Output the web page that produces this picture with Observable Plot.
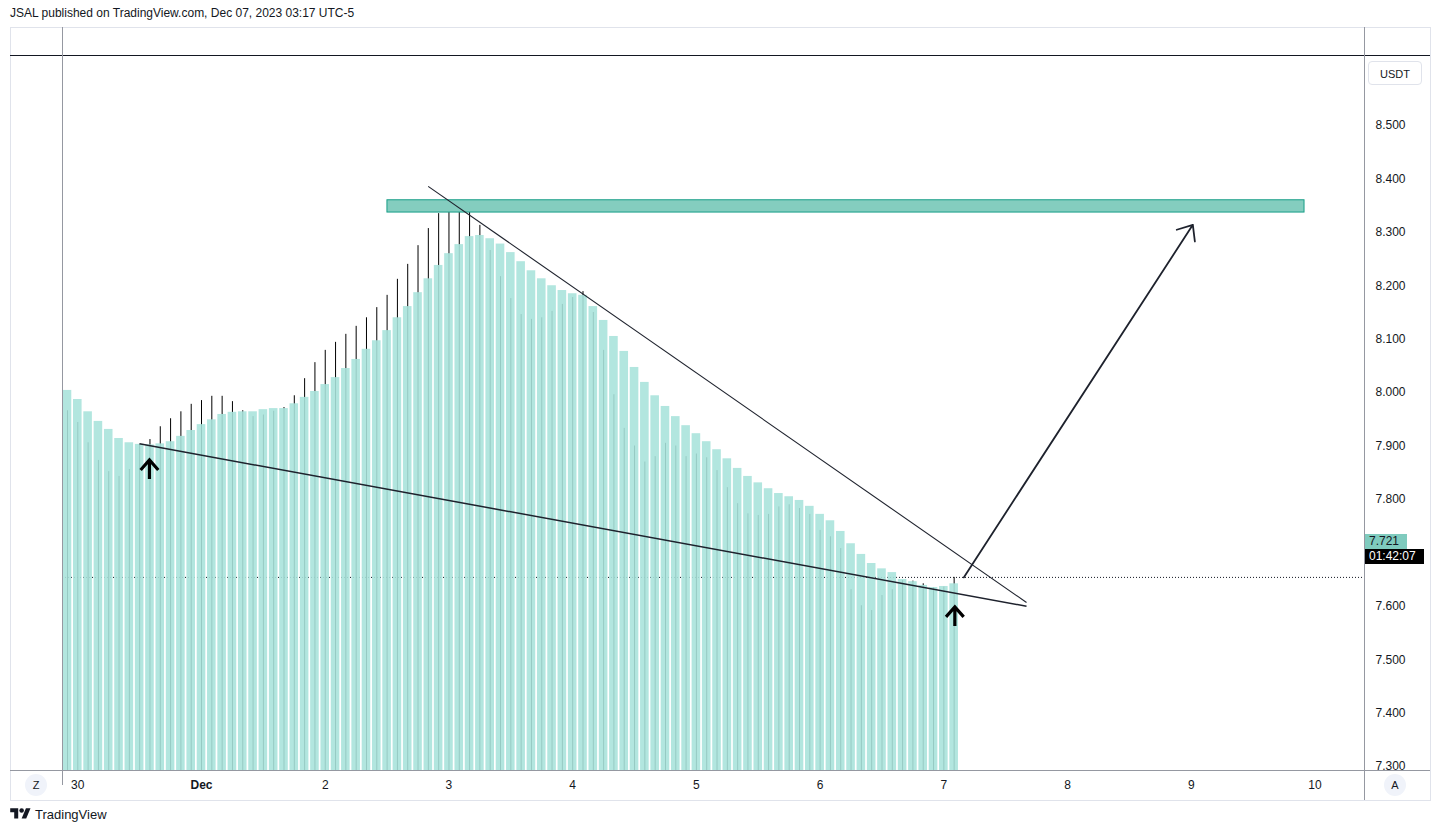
<!DOCTYPE html>
<html><head><meta charset="utf-8">
<script src="https://cdn.jsdelivr.net/npm/d3@7"></script>
<script src="https://cdn.jsdelivr.net/npm/@observablehq/plot@0.6"></script>
<style>
body{margin:0;background:#fff;font-family:"Liberation Sans",Arial,sans-serif;color:#131722}
#wrap{position:relative;width:1438px;height:834px;overflow:hidden;background:#fff}
.abs{position:absolute}
#title{left:10px;top:6px;font-size:12px;color:#131722;white-space:nowrap}
#frame{left:10px;top:27px;width:1419px;height:772px;border:1px solid #e0e3eb;box-sizing:content-box}
#chart{left:0;top:27px}
.hl{height:1px}
.vl{width:1px}
.circ{width:22px;height:22px;border-radius:11px;background:#f0f3fa;font-size:11px;line-height:22px;text-align:center;color:#131722}
#usdt{left:1368px;top:61px;width:54px;height:24px;border:1px solid #e0e3eb;border-radius:4px;font-size:11px;line-height:24px;text-align:center;color:#131722;box-sizing:border-box}
#footer{left:10px;top:806px;font-size:13px;color:#131722;display:flex;align-items:center;gap:4px}
</style></head><body>
<div id="wrap">
  <div id="title" class="abs">JSAL published on TradingView.com, Dec 07, 2023 03:17 UTC-5</div>
  <div id="frame" class="abs"></div>
  <div id="chart" class="abs"></div>
  <div class="abs hl" style="left:10px;top:55px;width:1420px;background:#131722"></div>
  <div class="abs vl" style="left:62px;top:27px;height:758px;background:#9598a1"></div>
  <div class="abs vl" style="left:1364px;top:27px;height:773px;background:#9598a1"></div>
  <div class="abs hl" style="left:10px;top:770px;width:1420px;background:#9598a1"></div>
  <div class="abs circ" style="left:25px;top:774px">Z</div>
  <div class="abs circ" style="left:1384px;top:774px">A</div>
  <div id="usdt" class="abs">USDT</div>
  <div id="footer" class="abs">
    <svg width="21" height="16" viewBox="0 0 36 28"><path d="M14 22H7V11H0V4h14v18z" fill="#131722"/><circle cx="20" cy="8" r="4" fill="#131722"/><path d="M28 22h-8l7.5-18h8L28 22z" fill="#131722"/></svg>
    <span>TradingView</span>
  </div>
</div>
<script>
// ---- data ----
const firstBar = "2023-11-29T22:00:00Z"; // 2-hour bars
const closes = [8.004,7.987,7.964,7.946,7.931,7.914,7.906,7.903,7.902,7.904,
  7.908,7.918,7.929,7.940,7.949,7.959,7.963,7.964,7.964,7.968,
  7.970,7.970,7.979,7.991,8.002,8.015,8.028,8.045,8.062,8.081,
  8.097,8.116,8.140,8.161,8.187,8.213,8.238,8.260,8.277,8.292,
  8.294,8.288,8.278,8.262,8.245,8.228,8.213,8.200,8.191,8.185,
  8.182,8.161,8.135,8.105,8.077,8.047,8.019,7.994,7.974,7.955,
  7.938,7.923,7.908,7.893,7.876,7.858,7.843,7.831,7.820,7.811,
  7.805,7.798,7.787,7.772,7.760,7.740,7.717,7.697,7.680,7.670,
  7.663,7.650,7.646,7.639,7.635,7.637,7.642];
const wickTops = [7.966,7.944,7.906,7.873,7.852,7.843,7.856,7.903,7.912,7.936,
  7.951,7.964,7.978,7.985,7.993,7.993,7.983,7.966,7.955,7.958,
  7.965,7.972,7.994,8.026,8.056,8.079,8.094,8.109,8.124,8.140,
  8.159,8.182,8.212,8.240,8.275,8.307,8.335,8.354,8.354,8.343,
  8.313,8.266,8.217,8.176,8.146,8.137,8.140,8.152,8.165,8.178,
  8.189,8.150,8.079,7.996,7.933,7.900,7.870,7.880,7.905,7.900,
  7.880,7.885,7.878,7.854,7.822,7.792,7.773,7.770,7.772,7.786,
  7.790,7.783,7.772,7.742,7.730,7.708,7.631,7.601,7.592,7.620,
  7.631,7.648,7.647,7.642,7.634,7.636,7.654];
const dayTicks = ["2023-11-30","2023-12-01","2023-12-02","2023-12-03","2023-12-04","2023-12-05","2023-12-06","2023-12-07","2023-12-08","2023-12-09","2023-12-10"];
const dayLabels = ["30","Dec","2","3","4","5","6","7","8","9","10"];
// 7.700 is hidden behind the last-price label in the reference
const priceTicks = [7.3,7.4,7.5,7.6,7.8,7.9,8.0,8.1,8.2,8.3,8.4,8.5];
const priceLabels = ["7.300","7.400","7.500","7.600","7.800","7.900","8.000","8.100","8.200","8.300","8.400","8.500"];
const lastPriceLine = [7.654];
const lastLabel = {value: 7.721, text: "7.721", countdown: "01:42:07"};
const upperTrend = [{t1:"2023-12-02T19:58Z", v1:8.386, t2:"2023-12-07T16:02Z", v2:7.607}];
const lowerTrend = [{t1:"2023-11-30T11:58Z", v1:7.904, t2:"2023-12-07T16:02Z", v2:7.600}];
const targetArrow = [{t1:"2023-12-07T03:52Z", v1:7.654, t2:"2023-12-09T00:18Z", v2:8.314}];
const zone = [{t1:"2023-12-02T12:04Z", t2:"2023-12-09T21:58Z", v1:8.337, v2:8.360}];
const upMarks = [{t:"2023-11-30T13:54Z", v:7.856},{t:"2023-12-07T02:08Z", v:7.581}];
const xDomain = ["2023-11-29T21:02Z","2023-12-10T09:36Z"];
const yDomain = [7.2925, 8.631];

// ---- build ----
const t0 = new Date(firstBar);
const bars = closes.map((c,i)=>({t: d3.utcHour.offset(t0, 2*i), close:c, wick: wickTops[i]}));
const halfW = 50*60*1000;
const dayDates = dayTicks.map(d=>new Date(d+"T00:00Z"));
const dayMap = new Map(dayDates.map((d,i)=>[+d, dayLabels[i]]));
const priceMap = new Map(priceTicks.map((v,i)=>[v, priceLabels[i]]));
const D = s => new Date(s);
const upArrow = {draw(ctx, size){
  const r = Math.sqrt(size/Math.PI);
  ctx.moveTo(0, r); ctx.lineTo(0, -r);
  ctx.moveTo(-0.93*r, 0.05*r); ctx.lineTo(0, -r); ctx.lineTo(0.93*r, 0.05*r);
}};
const font = '"Liberation Sans",Arial,sans-serif';
const plot = Plot.plot({
  width:1438, height:773,
  marginTop:28, marginBottom:30, marginLeft:62, marginRight:74,
  x:{type:"utc", domain:xDomain.map(D), axis:null, label:null},
  y:{domain:yDomain, axis:null, label:null},
  style:{fontFamily:font, fontSize:"12px", color:"#131722", background:"transparent", overflow:"visible"},
  marks:[
    Plot.ruleY(lastPriceLine, {y:d=>d, stroke:"#131722", strokeDasharray:"1,2", strokeWidth:1}),
    Plot.ruleX(bars, {x:"t", y1:yDomain[0], y2:"wick", stroke:"#000", strokeWidth:1}),
    Plot.rect(bars, {x1:d=>new Date(+d.t-halfW), x2:d=>new Date(+d.t+halfW), y1:yDomain[0], y2:"close", fill:"rgb(168,227,219)", fillOpacity:0.89}),
    Plot.rect(zone, {x1:d=>D(d.t1), x2:d=>D(d.t2), y1:"v1", y2:"v2", fill:"#84cdbf", stroke:"#179e87", strokeWidth:1}),
    Plot.link(upperTrend, {x1:d=>D(d.t1), y1:"v1", x2:d=>D(d.t2), y2:"v2", stroke:"#1e222d", strokeWidth:1.1}),
    Plot.link(lowerTrend, {x1:d=>D(d.t1), y1:"v1", x2:d=>D(d.t2), y2:"v2", stroke:"#1e222d", strokeWidth:1.5}),
    Plot.arrow(targetArrow, {x1:d=>D(d.t1), y1:"v1", x2:d=>D(d.t2), y2:"v2", stroke:"#1e222d", strokeWidth:1.8, headAngle:80, headLength:14}),
    Plot.dot(upMarks, {x:d=>D(d.t), y:"v", r:9.5, symbol:upArrow, stroke:"#000", fill:"none", strokeWidth:3.2, strokeLinejoin:"miter", strokeLinecap:"butt"}),
    Plot.axisY(priceTicks, {anchor:"right", label:null, tickSize:0, tickPadding:11, textAnchor:"start", tickFormat:d=>priceMap.get(d), fill:"#131722", fontSize:12}),
    Plot.axisX(dayDates.filter(d=>dayMap.get(+d)!=="Dec"), {anchor:"bottom", label:null, tickSize:0, tickPadding:10, tickFormat:d=>dayMap.get(+d), fill:"#131722", fontSize:12}),
    Plot.axisX(dayDates.filter(d=>dayMap.get(+d)==="Dec"), {anchor:"bottom", label:null, tickSize:0, tickPadding:10, tickFormat:d=>dayMap.get(+d), fill:"#131722", fontSize:12, fontWeight:"bold"})
  ]
});
document.getElementById("chart").appendChild(plot);

// last price label + countdown positioned with the y scale
const yPix = plot.scale("y").apply(lastLabel.value) + 27;
const wrap = document.getElementById("wrap");
const lab = document.createElement("div");
lab.className = "abs";
lab.style.cssText = `left:1365px;top:${yPix-7.5}px;width:42px;height:15px;background:#7fcbbe;color:#131722;font-size:12px;line-height:15px;padding-left:4px;box-sizing:border-box`;
lab.textContent = lastLabel.text;
wrap.appendChild(lab);
const cd = document.createElement("div");
cd.className = "abs";
cd.style.cssText = `left:1365px;top:${yPix+7.5}px;width:59px;height:15px;background:#000;color:#fff;font-size:12px;line-height:15px;padding-left:4px;box-sizing:border-box`;
cd.textContent = lastLabel.countdown;
wrap.appendChild(cd);
</script>
</body></html>
